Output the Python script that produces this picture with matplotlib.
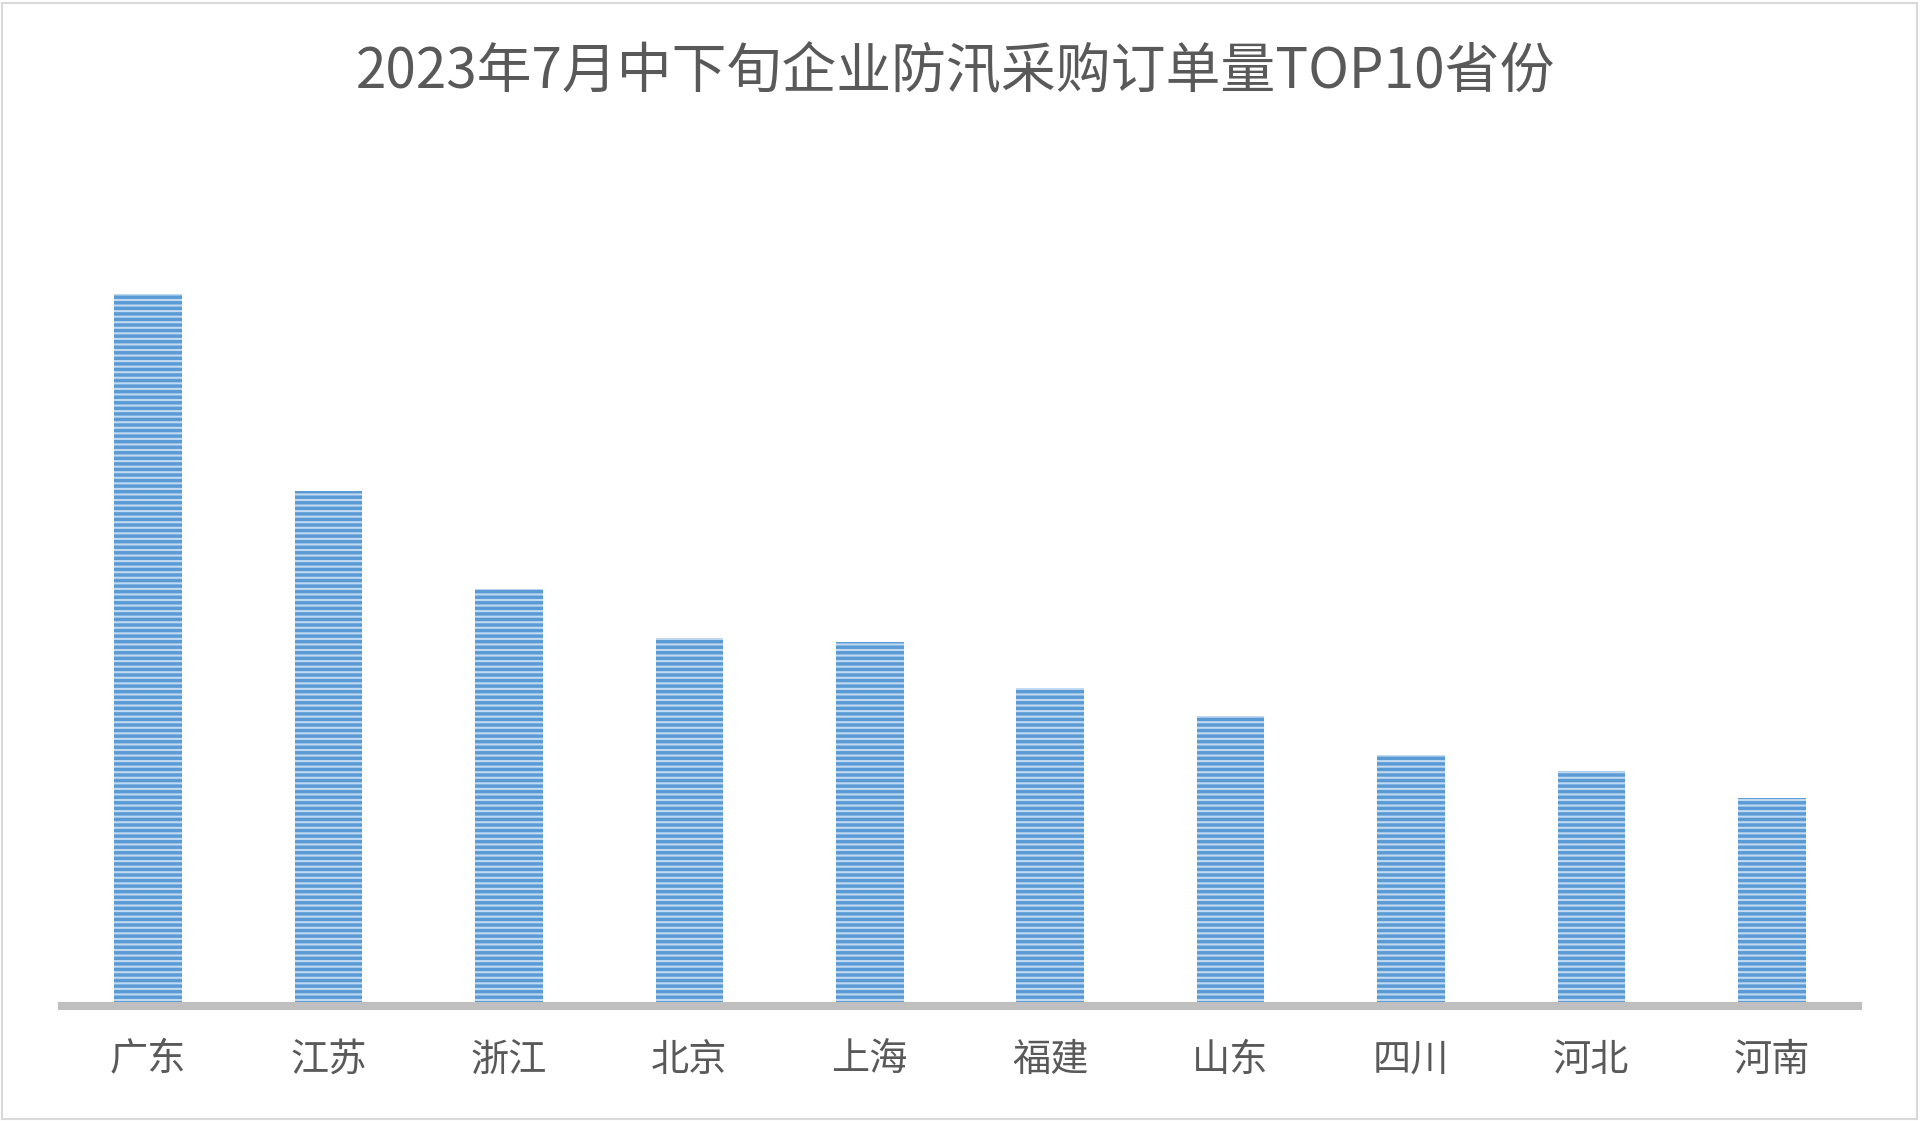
import matplotlib
matplotlib.use("Agg")
import matplotlib.pyplot as plt
from matplotlib.patches import Rectangle

plt.rcParams['font.family'] = ['Noto Sans CJK SC', 'DejaVu Sans']
plt.rcParams['hatch.linewidth'] = 2.5

# Data (relative index, 广东 = 100)
provinces = ['广东', '江苏', '浙江', '北京', '上海', '福建', '山东', '四川', '河北', '河南']
values = [100, 72.3, 58.6, 51.7, 51.1, 44.7, 40.7, 35.3, 33.0, 29.2]
title = '2023年7月中下旬企业防汛采购订单量TOP10省份'

W, H = 1920, 1121
fig = plt.figure(figsize=(W / 100, H / 100), dpi=100)
fig.patch.set_facecolor('white')

# outer chart border
fig.patches.append(Rectangle((2 / W, 2 / H), (W - 5) / W, (H - 5) / H,
                             transform=fig.transFigure, fill=False,
                             edgecolor='#D9D9D9', linewidth=1.5))

left, right = 58, 1862
base, top = 1006, 151.6
ax = fig.add_axes([left / W, (H - base) / H, (right - left) / W, (base - top) / H])

ax.bar(range(len(provinces)), values, width=0.375, color='#C2DAF1',
       edgecolor='#5B9BD5', linewidth=0, hatch='---', zorder=1)

ax.set_xlim(-0.5, len(provinces) - 0.5)
ax.set_ylim(0, 120)

for s in ['top', 'right', 'left']:
    ax.spines[s].set_visible(False)
ax.spines['bottom'].set_color('#BFBFBF')
ax.spines['bottom'].set_linewidth(5.8)
ax.spines['bottom'].set_capstyle('butt')
ax.spines['bottom'].set_zorder(3)

ax.set_yticks([])
ax.set_xticks(range(len(provinces)), labels=provinces)
ax.tick_params(axis='x', length=0, pad=39, labelsize=27.5, labelcolor='#595959')
for lab in ax.get_xticklabels():
    lab.set_va('center')

fig.text(956 / W, 1 - 73 / H, title, ha='center', va='center',
         fontsize=39.5, color='#595959')

fig.savefig('out.png', dpi=100, facecolor='white')
